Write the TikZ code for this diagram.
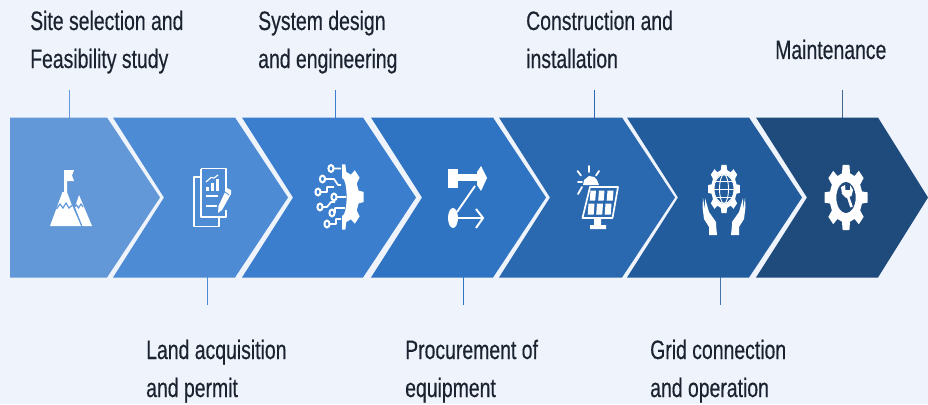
\documentclass[tikz,border=0pt]{standalone}
\usepackage{fontspec}
\newfontfamily\labelfont[FakeStretch=0.73,FakeBold=0.35]{Liberation Sans}
\definecolor{pagebg}{HTML}{EFF4FC}
\definecolor{cA}{HTML}{6298D8}
\definecolor{cB}{HTML}{4D8CD4}
\definecolor{cC}{HTML}{3A7ECD}
\definecolor{cD}{HTML}{2F74C2}
\definecolor{cE}{HTML}{2A68AF}
\definecolor{cF}{HTML}{225C9C}
\definecolor{cG}{HTML}{1E4A7C}
\definecolor{txt}{HTML}{1B2330}
\tikzset{
  lbl/.style={anchor=base west,inner sep=0pt,text=txt,font=\labelfont\fontsize{26.6}{26.6}\selectfont},
  leader/.style={line width=1pt},
  ico/.style={fill=white,draw=none},
  icl/.style={draw=white,line width=1.7pt,line join=round,fill=none},
}
% arguments: left, right, colour, notch depth, tip depth
\newcommand{\chevshape}[5]{\fill[#3] (#1,117.5) -- (#2,117.5) -- ({#2+#5},197.5) -- (#2,277.5) -- (#1,277.5) -- ({#1+#4},197.5) -- cycle;}
% arguments: outer radius, root radius, extra path
\newcommand{\gearpath}[3]{%
  \foreach \a in {0,45,...,315}{%
    \ifnum\a=0 (\a-9:#1) \else -- (\a-9:#1) \fi -- (\a+9:#1) -- (\a+14:#2) -- (\a+31:#2)
  } -- cycle #3}
\begin{document}
\begin{tikzpicture}[x=1pt,y=-1pt]
\useasboundingbox (0,0) rectangle (928,404);
\fill[pagebg] (0,0) rectangle (928,404);
% leader end points
\foreach \n/\x/\ya/\yb in {a/69/90/118,c/335/90/118,e/594/90/118,g/842/90/118,b/207/277/305,d/463/277/305,f/720/277/305}{
  \coordinate (\n1) at (\x,\ya);
  \coordinate (\n2) at (\x,\yb);
}
\draw[leader,cA] (a1) -- (a2);
\draw[leader,cB] (b1) -- (b2);
\draw[leader,cC] (c1) -- (c2);
\draw[leader,cD] (d1) -- (d2);
\draw[leader,cE] (e1) -- (e2);
\draw[leader,cF!85!white] (f1) -- (f2);
\draw[leader,cG!85!white] (g1) -- (g2);
% chevrons
\chevshape{10}{107}{cA}{0}{53}
\chevshape{113}{235}{cB}{51}{53}
\chevshape{242}{363}{cC}{51}{53}
\chevshape{371}{493}{cD}{51}{53}
\chevshape{499}{622}{cE}{51}{53}
\chevshape{627}{749}{cF}{51}{53}
\chevshape{756}{878}{cG}{51}{50}
% labels
\node[lbl] (ta1) at (30,30) {Site selection and};
\node[lbl] (ta2) at (30,68) {Feasibility study};
\node[lbl] (tc1) at (258,30) {System design};
\node[lbl] (tc2) at (258,68) {and engineering};
\node[lbl] (te1) at (526,30) {Construction and};
\node[lbl] (te2) at (526,68) {installation};
\node[lbl] (tg1) at (775,59) {Maintenance};
\node[lbl] (tb1) at (146,359) {Land acquisition};
\node[lbl] (tb2) at (146,397) {and permit};
\node[lbl] (td1) at (405,359) {Procurement of};
\node[lbl] (td2) at (405,397) {equipment};
\node[lbl] (tf1) at (650,359) {Grid connection};
\node[lbl] (tf2) at (650,397) {and operation};
% --- icon 1: mountains
\fill[ico] (64,170) -- (74,170) -- (72,175.5) -- (74,181) -- (67,181) -- (67,192) -- (71,203) -- (81,226) -- (50,226) -- (62.5,192) -- (64,192) -- cycle;
\fill[ico] (79,195) -- (92,226) -- (82.5,226) -- (75,207) -- cycle;
\draw[cA,line width=1.2pt] (56.5,209) -- (60,204) -- (63,208) -- (66,203) -- (69,208) -- (72.5,205);
\draw[cA,line width=1.2pt] (74.5,207) -- (76.5,205) -- (78.5,208) -- (81,204) -- (83,207);
% --- icon 2: papers and chart
\draw[icl] (200,177) -- (194,177) -- (194,226.5) -- (219,226.5) -- (219,217);
\draw[icl] (201,168.5) -- (226,168.5) -- (226,198);
\draw[icl] (201,168.5) -- (201,217) -- (226,217) -- (226,210);
\foreach \x/\t in {207.5/187,212.5/183,217.5/179}{\fill[ico] ({\x-1.2},\t) rectangle ({\x+1.2},191);}
\draw[white,line width=1.2pt] (206,182) -- (211,177.5) -- (214,178) -- (218,175);
\draw[white,line width=1.9pt] (206,196) -- (218,196) (206,206) -- (217,206);
\fill[ico] (227,188) -- (231,190) -- (231,194) -- (222,210) -- (218,213) -- (218.5,206) -- cycle;
\draw[cB,line width=.8pt] (225,192) -- (229,195);
% --- icon 3: half gear and circuit
\begin{scope}
  \clip (342,150) rectangle (370,245);
  \fill[ico,even odd rule,shift={(342,197)},xscale=.66] \gearpath{33}{26}{(0,0) ellipse (7 and 19)};
\end{scope}
\foreach \x/\y in {331/168.5,322.5/179,318/192,320/207,334/197,332/213,327/224}{
  \draw[white,line width=2pt] (\x,\y) ellipse (2.6 and 3.4);
}
\draw[white,line width=1.7pt,line join=round]
  (334,168.5) -- (341,168.5)
  (325.5,179) -- (334,179) -- (338,185) -- (341,185)
  (321,192) -- (327,192) -- (327,187) -- (334,187)
  (323,207) -- (327,207) -- (331,202) -- (335,202)
  (337,197) -- (346,197)
  (335,213) -- (335,208) -- (345,208)
  (330,224) -- (336,224) -- (336,219) -- (341,219);
% --- icon 4: process flow
\fill[ico] (448,169) rectangle (457.5,188);
\fill[ico] (457,174) rectangle (478,181);
\fill[ico] (477,172) -- (481,166) -- (487,178) -- (481,191) -- (477,185) -- cycle;
\fill[ico] (453,218) ellipse (5 and 10);
\draw[white,line width=1.9pt] (475,186) -- (457,212);
\draw[white,line width=1.9pt] (458,218) -- (482,218);
\draw[white,line width=2pt,line join=miter] (476,209) -- (483,218) -- (476,228);
% --- icon 5: solar panel
\draw[icl] (590,187) -- (618,187) -- (612.5,218) -- (582.5,218) -- cycle;
\foreach \xa/\xb/\ya/\yb in {590.5/596/190.5/200.5,599/604.5/190.5/200.5,607.5/613.5/190.5/200.5,588.5/594.5/203.5/214.5,597/603/203.5/214.5,605.5/611.5/203.5/214.5}{
  \fill[ico] (\xa,\ya) -- (\xb,\ya) -- ({\xb-.8},\yb) -- ({\xa-.8},\yb) -- cycle;
}
\fill[ico] (594,218) -- (594,225) -- (590,225) -- (590,229) -- (606,229) -- (606,225) -- (601,225) -- (601,218) -- cycle;
\fill[ico] (583,185) -- (584,180) -- (589,176) -- (594,177) -- (597,180) -- (599,185) -- cycle;
\draw[white,line width=1.8pt,line cap=round] (589,166) -- (589,172) (577.5,171) -- (581,175.5) (599,171) -- (596,175.5) (578,182) -- (582,182) (582,187) -- (578,194);
% --- icon 6: globe, gear, hands
\fill[ico,even odd rule,shift={(724,189)},xscale=.66] \gearpath{24.5}{19.5}{(0,0) ellipse (15.5 and 15)};
\begin{scope}[white,line width=.9pt]
  \draw (724,189) ellipse (10 and 14.5);
  \draw (724,189) ellipse (4.5 and 14.5);
  \draw (714,189) -- (734,189) (715.5,181) -- (732.5,181) (715.5,197) -- (732.5,197);
\end{scope}
\foreach \s/\c in {1/724,-1/724}{
  \begin{scope}[shift={(\c,0)},xscale=\s]
    \fill[ico] (-21,198) -- (-19,209) -- (-13,222) -- (-8,225) -- (-7,235) -- (-15,235) -- (-15,227) -- (-20,219) -- (-21.5,207) -- cycle;
    \fill[ico] (-19,198) -- (-15,212) -- (-8,222) -- (-8,226) -- (-14,224) -- (-19,212) -- cycle;
  \end{scope}
}
% --- icon 7: gear and wrench
\fill[ico,even odd rule,shift={(846,197.5)},xscale=.66] \gearpath{33}{25}{(0,0) ellipse (14.7 and 15.7)};
\draw[white,line width=2.6pt] (846.5,192) -- (851.5,207);
\fill[ico] (841,187) -- (845,185) -- (845.5,190) -- (850,190) -- (850,185) -- (853,190) -- (851.5,196) -- (846,198) -- (842,194) -- cycle;
\end{tikzpicture}
\end{document}
